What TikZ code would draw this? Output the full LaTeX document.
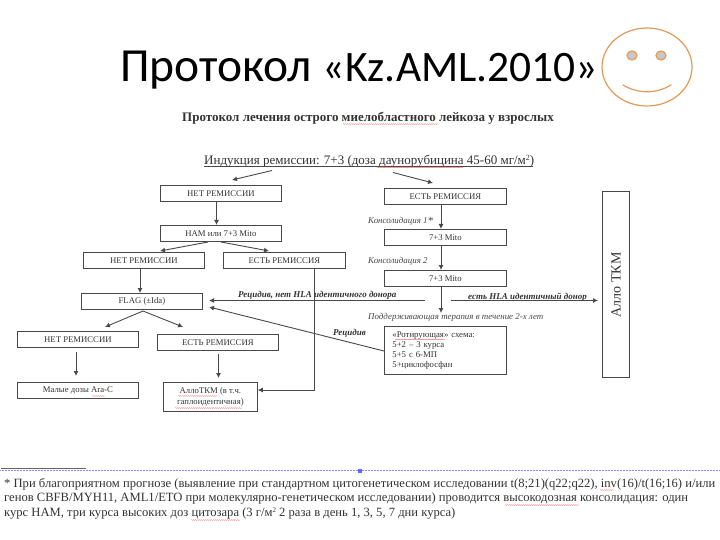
\documentclass[tikz,border=0pt]{standalone}
\usepackage{fontspec}
\setmainfont{Liberation Serif}
\newfontfamily\titlefont{Carlito}
\usetikzlibrary{arrows.meta,decorations.pathmorphing}
\definecolor{ink}{HTML}{333333}
\definecolor{edge}{HTML}{484848}
\definecolor{smile}{HTML}{E59A55}
\tikzset{
  x=1pt,y=-1pt,
  bx/.style={draw=edge,line width=0.8pt,inner sep=0pt,text=ink,align=center,font=\fontsize{8.7}{10}\selectfont,anchor=north west},
  ar/.style={draw=edge,line width=0.9pt,-{Latex[length=5pt,width=5pt]}},
  lbl/.style={text=ink,font=\fontsize{9}{11}\itshape\bfseries\selectfont,inner sep=0pt,anchor=base west},
  cons/.style={text=edge,font=\fontsize{8.9}{11}\itshape\selectfont,inner sep=0pt,anchor=base west},
  foot/.style={text=ink,font=\fontsize{12.6}{14}\selectfont,inner sep=0pt,anchor=base west},
  sq/.style={draw=red!60!white,line width=0.3pt,decorate,decoration={snake,amplitude=0.4pt,segment length=2pt}}
}
\begin{document}
\begin{tikzpicture}
\useasboundingbox (0,0) rectangle (720,540);
\fill[white] (0,0) rectangle (720,540);
% title
\node[inner sep=0pt,anchor=base west,font=\titlefont\fontsize{47.5}{50}\selectfont] (title) at (120,81.7) {Протокол {\fontsize{43.5}{50}\selectfont «Kz.AML.2010»}};
% smiley
\draw[smile,line width=1.2pt] (647,67) ellipse [x radius=45,y radius=39];
\draw[smile,line width=1.2pt,fill=black!22!white] (632,55.5) ellipse [x radius=5,y radius=4.5];
\draw[smile,line width=1.2pt,fill=black!22!white] (661,55.5) ellipse [x radius=5,y radius=4.5];
\draw[smile,line width=1.2pt,line cap=round] (623,85) .. controls (638,94) and (656,94) .. (671,85);
% headings
\node[inner sep=0pt,anchor=base west,text=ink,font=\fontsize{13}{15}\bfseries\selectfont] (head) at (182,121.5) {Протокол лечения острого миелобластного лейкоза у взрослых};
\node[inner sep=0pt,anchor=base west,text=ink,font=\fontsize{13}{15}\selectfont] (ind) at (204,165) {Индукция ремиссии: 7+3 (доза даунорубицина 45-60 мг/м\raisebox{4pt}{\fontsize{8}{9}\selectfont 2})};
\draw[edge,line width=0.6pt] (204,166.5) -- (533,166.5);
\draw[sq] (343,124) -- (438,124);
\draw[sq] (377,167.5) -- (463,167.5);
% left column boxes
\node[bx,minimum width=121pt,minimum height=16pt] (n1) at (160,185) {НЕТ РЕМИССИИ};
\node[bx,minimum width=121pt,minimum height=16pt] (ham) at (160,225) {НАМ или 7+3 Mito};
\node[bx,minimum width=121pt,minimum height=16pt] (n2) at (83,252) {НЕТ РЕМИССИИ};
\node[bx,minimum width=122pt,minimum height=16pt] (y2) at (223,252) {ЕСТЬ РЕМИССИЯ};
\node[bx,minimum width=121pt,minimum height=16pt] (flag) at (81,293) {FLAG (±Ida)};
\node[bx,minimum width=121pt,minimum height=16pt] (n3) at (17,331) {НЕТ РЕМИССИИ};
\node[bx,minimum width=121pt,minimum height=16pt] (y3) at (157,334) {ЕСТЬ РЕМИССИЯ};
\node[bx,minimum width=121pt,minimum height=16pt] (low) at (17,382) {Малые дозы Ara-C};
\node[bx,minimum width=94pt,minimum height=29pt,font=\fontsize{8.7}{11.5}\selectfont] (allo) at (163,382) {АллоТКМ (в т.ч.\\гаплоидентичная)};
\draw[sq] (178,396) -- (218,396);
\draw[sq] (175,408) -- (242,408);
\draw[sq] (92,396) -- (105,396);
% right column boxes
\node[bx,minimum width=122pt,minimum height=16pt] (y1) at (384,188) {ЕСТЬ РЕМИССИЯ};
\node[bx,minimum width=122pt,minimum height=16pt] (m1) at (384,229) {7+3 Mito};
\node[bx,minimum width=122pt,minimum height=16pt] (m2) at (384,270) {7+3 Mito};
\node[bx,minimum width=122pt,minimum height=48pt,align=left,text width=106pt,font=\fontsize{8.75}{10.2}\selectfont] (rot) at (384,326) {«Ротирующая» схема:\\5+2 – 3 курса\\5+5 с 6-МП\\5+циклофосфан};
\draw[sq] (395,339.5) -- (445,339.5);
\node[draw=edge,line width=0.8pt,inner sep=0pt,anchor=north west,minimum width=27pt,minimum height=186pt] (tkm) at (602,191) {};
\node[rotate=90,inner sep=0pt,text=ink,font=\fontsize{14}{16}\selectfont] (tkmt) at (616,285) {Алло ТКМ};
% free ends
\coordinate (i0) at (272,170.5); \coordinate (i1) at (232,180);
\coordinate (i2) at (393,172.5); \coordinate (i3) at (433,183);
\coordinate (h0) at (208,242); \coordinate (h1) at (160,251);
\coordinate (h2) at (221,242); \coordinate (h3) at (269,251);
\coordinate (f0) at (143,311); \coordinate (f1) at (105,327); \coordinate (f2) at (183,327);
\coordinate (a0) at (76,352); \coordinate (a1) at (76,376);
\coordinate (b0) at (218.5,354); \coordinate (b1) at (218.5,378);
\coordinate (t0) at (441,286); \coordinate (t1) at (441,313);
\coordinate (r0) at (425,300.5); \coordinate (r1) at (209,300.5);
\coordinate (r2) at (451,300.5); \coordinate (r3) at (598,300.5);
\coordinate (r4) at (209,307);
\coordinate (e0) at (314,268); \coordinate (e1) at (314,390);
% connectors
\draw[ar] (i0) -- (i1);
\draw[ar] (i2) -- (i3);
\draw[ar] (n1.south -| 216.5,0) -- (ham.north -| 216.5,0);
\draw[ar] (h0) -- (h1);
\draw[ar] (h2) -- (h3);
\draw[ar] (n2.south -| 140,0) -- (flag.north -| 140,0);
\draw[ar] (e0) -- (e1) -- (allo.east |- e1);
\draw[ar] (f0) -- (f1);
\draw[ar] (f0) -- (f2);
\draw[ar] (a0) -- (a1);
\draw[ar] (b0) -- (b1);
\draw[ar] (y1.south -| 441,0) -- (m1.north -| 441,0);
\draw[ar] (m1.south -| 441,0) -- (m2.north -| 441,0);
\draw[ar] (t0) -- (t1);
\draw[ar] (r0) -- (r1);
\draw[ar] (r2) -- (r3);
\draw[ar] (rot.west |- 0,351) -- (r4);
% labels
\node[cons] (c1) at (368,224) {Консолидация 1\raisebox{-1pt}{\fontsize{11}{11}\selectfont *}};
\node[cons] (c2) at (368,263) {Консолидация 2};
\node[cons] (c3) at (368,319) {Поддерживающая терапия в течение 2-х лет};
\node[lbl] (l1) at (238,297) {Рецидив, нет  HLA идентичного донора};
\node[lbl] (l2) at (468,299) {есть  HLA идентичный донор};
\node[lbl] (l3) at (333,335) {Рецидив};
% footnote separators
\draw[black!60,line width=0.8pt] (1,468) -- (86,468);
\draw[blue!45!white,line width=0.5pt,densely dotted] (0,470.5) -- (720,470.5);
\fill[blue!60!white] (357.5,468.5) rectangle (361.5,472.5);
% footnote
\node[foot] (f1t) at (4,487) {* При благоприятном прогнозе (выявление при стандартном цитогенетическом исследовании t(8;21)(q22;q22), inv(16)/t(16;16) и/или};
\node[foot] (f2t) at (4,501.5) {генов CBFB/MYH11, AML1/ETO при молекулярно-генетическом исследовании) проводится высокодозная консолидация: один};
\node[foot] (f3t) at (4,516) {курс НАМ, три курса высоких доз цитозара (3 г/м\raisebox{4pt}{\fontsize{7}{8}\selectfont 2} 2 раза в день 1, 3, 5, 7 дни курса)};
\draw[sq] (505,505) -- (579,505);
\draw[sq] (191,520) -- (240,520);
\draw[sq] (600,490) -- (614,490);
\end{tikzpicture}
\end{document}
